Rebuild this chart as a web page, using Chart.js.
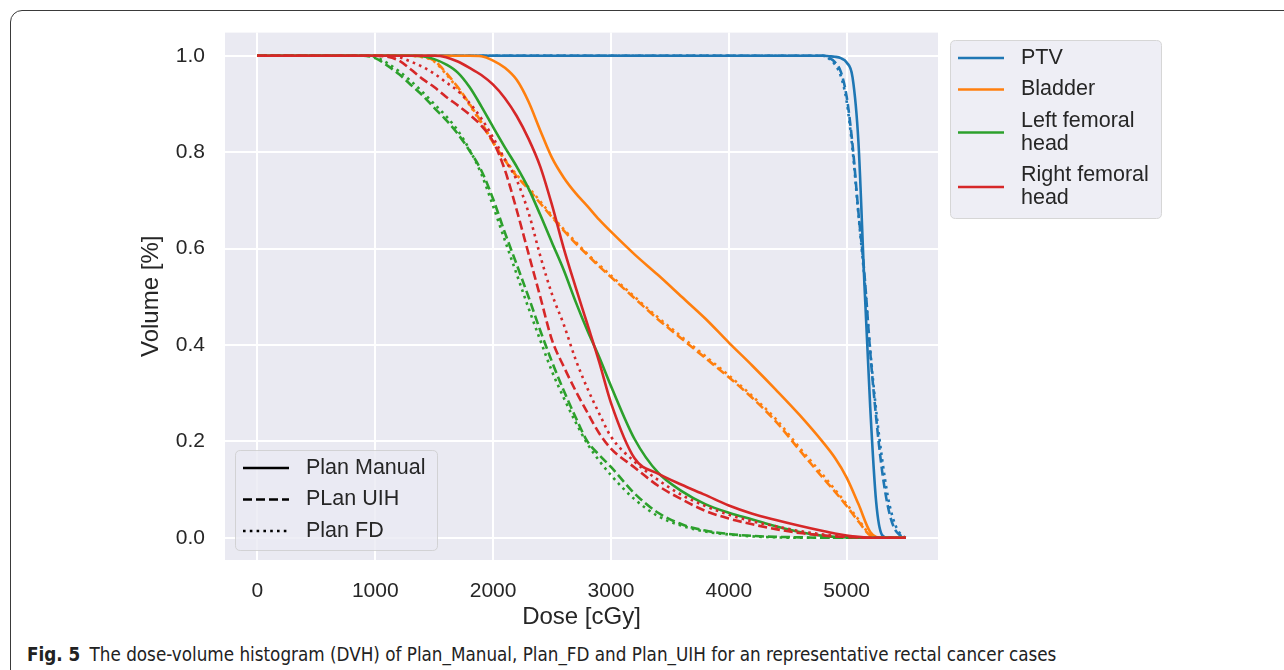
<!DOCTYPE html>
<html>
<head>
<meta charset="utf-8">
<script src="https://cdn.jsdelivr.net/npm/chart.js@4.4.1/dist/chart.umd.min.js"></script>
<style>
  html, body { margin: 0; padding: 0; background: #fff; width: 1284px; height: 670px; overflow: hidden; }
  #frame { position: absolute; left: 10px; top: 10px; width: 1300px; height: 700px; border: 1.5px solid #3a3a3a; border-top-left-radius: 12px; box-sizing: border-box; }
  #wrap { position: absolute; left: 0; top: 0; width: 1284px; height: 640px; }
  #caption { position: absolute; left: 27px; top: 644px; font-family: 'Liberation Sans Narrow', 'DejaVu Sans Condensed', sans-serif; font-size: 18.7px; color: #222; white-space: nowrap; }
  #caption b { margin-right: 4px; }
</style>
</head>
<body>
<div id="frame"></div>
<div id="wrap"><canvas id="dvh" width="1284" height="640"></canvas></div>
<div id="caption"><b>Fig. 5</b> The dose-volume histogram (DVH) of Plan_Manual, Plan_FD and Plan_UIH for an representative rectal cancer cases</div>
<script>
// dose grid for the organs at risk (cGy)
const doseGrid = [0, 800, 900, 1000, 1100, 1200, 1300, 1400, 1500, 1600, 1700, 1800, 1900, 2000,
  2100, 2200, 2300, 2400, 2500, 2600, 2700, 2800, 2900, 3000, 3200, 3400, 3600, 3800, 4000,
  4200, 4400, 4600, 4800, 4900, 5000, 5100, 5200, 5300, 5400, 5500];
// finer grid for the PTV fall-off
const ptvDose = [0, 4700, 4800, 4850, 4900, 4950, 5000, 5050, 5100, 5150, 5200, 5250, 5300, 5350, 5400, 5450, 5500];

const ptvManual = [1, 1, 1, 0.999, 0.998, 0.995, 0.986, 0.955, 0.82, 0.53, 0.27, 0.075, 0.006, 0, 0, 0, 0];
const ptvUIH    = [1, 1, 1, 0.996, 0.987, 0.967, 0.915, 0.815, 0.675, 0.55, 0.385, 0.25, 0.14, 0.065, 0.022, 0.006, 0];
const ptvFD     = [1, 1, 1, 0.994, 0.982, 0.958, 0.905, 0.805, 0.67, 0.54, 0.39, 0.265, 0.165, 0.085, 0.035, 0.01, 0];

const bladderManual = [1, 1, 1, 1, 1, 1, 1, 1, 1, 1, 1, 1,
  0.999, 0.99, 0.975, 0.95, 0.905, 0.845, 0.788, 0.747, 0.715, 0.688, 0.66, 0.635,
  0.588, 0.545, 0.50, 0.455, 0.405, 0.357, 0.307, 0.255, 0.198,
  0.166, 0.125, 0.07, 0.012, 0, 0, 0];
const bladderUIH = [1, 1, 1, 1, 1, 1, 1,
  0.998, 0.99, 0.965, 0.935, 0.9, 0.862, 0.82, 0.783, 0.75, 0.723, 0.694, 0.665, 0.637, 0.611, 0.587, 0.563, 0.541,
  0.497, 0.453, 0.413, 0.373, 0.333, 0.29, 0.241, 0.182, 0.124,
  0.096, 0.066, 0.034, 0.005, 0, 0, 0];
const bladderFD = [1, 1, 1, 1, 1, 1, 1,
  0.997, 0.988, 0.962, 0.932, 0.898, 0.86, 0.82, 0.785, 0.753, 0.727, 0.698, 0.668, 0.64, 0.614, 0.589, 0.566, 0.544,
  0.5, 0.457, 0.417, 0.377, 0.337, 0.294, 0.246, 0.187, 0.13,
  0.1, 0.07, 0.038, 0.007, 0, 0, 0];

const lfhManual = [1, 1, 1, 1, 1, 1, 1,
  0.999, 0.993, 0.982, 0.965, 0.935, 0.895, 0.852, 0.81, 0.77, 0.725, 0.67, 0.612, 0.555, 0.49, 0.43, 0.375, 0.315,
  0.205, 0.135, 0.097, 0.07, 0.052, 0.038, 0.024, 0.012, 0.004,
  0.002, 0.001, 0, 0, 0, 0, 0];
const lfhUIH = [1, 1, 1,
  0.995, 0.98, 0.962, 0.94, 0.918, 0.892, 0.867, 0.838, 0.803, 0.762, 0.703, 0.633, 0.567, 0.5, 0.43, 0.365, 0.305, 0.25, 0.2, 0.172, 0.147,
  0.092, 0.052, 0.028, 0.015, 0.008, 0.004, 0.002, 0.001, 0,
  0, 0, 0, 0, 0, 0, 0];
const lfhFD = [1, 1, 1,
  0.997, 0.985, 0.968, 0.948, 0.925, 0.9, 0.875, 0.845, 0.805, 0.755, 0.688, 0.617, 0.547, 0.477, 0.41, 0.345, 0.29, 0.24, 0.195, 0.16, 0.13,
  0.08, 0.045, 0.025, 0.013, 0.007, 0.003, 0.001, 0, 0,
  0, 0, 0, 0, 0, 0, 0];

const rfhManual = [1, 1, 1, 1, 1, 1, 1, 1, 1,
  0.997, 0.988, 0.975, 0.96, 0.94, 0.912, 0.875, 0.828, 0.77, 0.69, 0.6, 0.52, 0.443, 0.365, 0.28,
  0.165, 0.133, 0.11, 0.089, 0.067, 0.05, 0.037, 0.025, 0.014,
  0.009, 0.005, 0.002, 0, 0, 0, 0];
const rfhUIH = [1, 1, 1, 1,
  0.998, 0.99, 0.972, 0.952, 0.935, 0.915, 0.897, 0.878, 0.855, 0.822, 0.763, 0.68, 0.59, 0.5, 0.41, 0.355, 0.305, 0.26, 0.217, 0.185,
  0.146, 0.108, 0.08, 0.056, 0.04, 0.028, 0.018, 0.01, 0.005,
  0.003, 0.002, 0.001, 0, 0, 0, 0];
const rfhFD = [1, 1, 1, 1, 1,
  0.997, 0.988, 0.977, 0.963, 0.945, 0.927, 0.902, 0.87, 0.83, 0.785, 0.742, 0.675, 0.585, 0.505, 0.442, 0.37, 0.31, 0.258, 0.21,
  0.158, 0.12, 0.089, 0.066, 0.048, 0.034, 0.024, 0.014, 0.007,
  0.004, 0.002, 0.001, 0, 0, 0, 0];

const xTicks = [0, 1000, 2000, 3000, 4000, 5000];
const yTicks = [0, 0.2, 0.4, 0.6, 0.8, 1.0];

const structureNames = [['PTV'], ['Bladder'], ['Left femoral', 'head'], ['Right femoral', 'head']];
const planNames = ['Plan Manual', 'PLan UIH', 'Plan FD'];

const colors = ['#1f77b4', '#ff7f0e', '#2ca02c', '#d62728'];
const dashes = [[], [9, 4], [2.6, 4.2]];
const textColor = '#262626';
const fontFamily = '"Liberation Sans", Arial, sans-serif';

const structures = [
  { dose: ptvDose, plans: [ptvManual, ptvUIH, ptvFD] },
  { dose: doseGrid, plans: [bladderManual, bladderUIH, bladderFD] },
  { dose: doseGrid, plans: [lfhManual, lfhUIH, lfhFD] },
  { dose: doseGrid, plans: [rfhManual, rfhUIH, rfhFD] }
];

const datasets = [];
let k = 0;
structures.forEach((s, si) => {
  s.plans.forEach((vals, pi) => {
    datasets.push({
      data: s.dose.map((d, i) => ({ x: d, y: vals[i] })),
      borderColor: colors[si],
      borderWidth: 2.6,
      borderDash: dashes[pi],
      borderCapStyle: 'butt',
      pointRadius: 0,
      fill: false,
      cubicInterpolationMode: 'monotone',
      order: 100 - k
    });
    k++;
  });
});

function boxPath(ctx, x, y, w, h, r) {
  ctx.beginPath();
  ctx.moveTo(x + r, y);
  ctx.lineTo(x + w - r, y);
  ctx.quadraticCurveTo(x + w, y, x + w, y + r);
  ctx.lineTo(x + w, y + h - r);
  ctx.quadraticCurveTo(x + w, y + h, x + w - r, y + h);
  ctx.lineTo(x + r, y + h);
  ctx.quadraticCurveTo(x, y + h, x, y + h - r);
  ctx.lineTo(x, y + r);
  ctx.quadraticCurveTo(x, y, x + r, y);
  ctx.closePath();
}

const plotBackground = {
  id: 'plotBackground',
  beforeDraw(chart) {
    const a = chart.chartArea;
    const ctx = chart.ctx;
    ctx.save();
    ctx.fillStyle = '#eaeaf2';
    ctx.fillRect(a.left, a.top, a.right - a.left, a.bottom - a.top);
    ctx.restore();
  }
};

const dvhLegends = {
  id: 'dvhLegends',
  afterDraw(chart) {
    const ctx = chart.ctx;
    ctx.save();
    ctx.font = '21.5px ' + fontFamily;
    ctx.textBaseline = 'middle';
    ctx.textAlign = 'left';

    // structure legend, outside on the right
    boxPath(ctx, 950.5, 40.5, 211, 178, 5);
    ctx.fillStyle = '#eeeef5';
    ctx.fill();
    ctx.strokeStyle = '#d6d6d6';
    ctx.lineWidth = 1;
    ctx.stroke();
    let y = 58;
    structureNames.forEach((lines, i) => {
      const mid = y + (lines.length - 1) * 11.5;
      ctx.beginPath();
      ctx.strokeStyle = colors[i];
      ctx.lineWidth = 2.6;
      ctx.setLineDash([]);
      ctx.moveTo(958, mid);
      ctx.lineTo(1004, mid);
      ctx.stroke();
      ctx.fillStyle = textColor;
      lines.forEach((t, j) => ctx.fillText(t, 1021, y + j * 23));
      y += (lines.length - 1) * 23 + 31.5;
    });

    // plan legend, inside lower left
    boxPath(ctx, 235.5, 450.5, 202, 100, 5);
    ctx.fillStyle = 'rgba(234,234,242,0.8)';
    ctx.fill();
    ctx.strokeStyle = 'rgba(204,204,204,0.8)';
    ctx.lineWidth = 1;
    ctx.stroke();
    planNames.forEach((t, i) => {
      const yy = 468 + i * 31.5;
      ctx.beginPath();
      ctx.strokeStyle = '#000';
      ctx.lineWidth = 2.6;
      ctx.lineCap = 'butt';
      ctx.setLineDash(dashes[i]);
      ctx.moveTo(243, yy);
      ctx.lineTo(289, yy);
      ctx.stroke();
      ctx.setLineDash([]);
      ctx.fillStyle = textColor;
      ctx.fillText(t, 306, yy);
    });
    ctx.restore();
  }
};

new Chart(document.getElementById('dvh'), {
  type: 'line',
  data: { datasets: datasets },
  plugins: [plotBackground, dvhLegends],
  options: {
    responsive: false,
    animation: false,
    layout: { padding: { left: 0, top: 31, right: 346, bottom: 0 } },
    plugins: {
      legend: { display: false },
      tooltip: { enabled: false }
    },
    scales: {
      x: {
        type: 'linear',
        min: -275,
        max: 5775,
        border: { display: false },
        grid: { color: '#ffffff', lineWidth: 2, drawTicks: false },
        ticks: {
          padding: 19,
          color: textColor,
          font: { family: fontFamily, size: 21 },
          callback: v => String(v)
        },
        title: {
          display: true,
          text: 'Dose [cGy]',
          color: textColor,
          font: { family: fontFamily, size: 24 },
          padding: { top: 0, bottom: 8 }
        },
        afterBuildTicks: s => { s.ticks = xTicks.map(v => ({ value: v })); },
        afterFit: s => { s.height = 80; }
      },
      y: {
        type: 'linear',
        min: -0.046,
        max: 1.048,
        border: { display: false },
        grid: { color: '#ffffff', lineWidth: 2, drawTicks: false },
        ticks: {
          padding: 20,
          color: textColor,
          font: { family: fontFamily, size: 21 },
          callback: v => v.toFixed(1)
        },
        title: {
          display: true,
          text: 'Volume [%]',
          color: textColor,
          font: { family: fontFamily, size: 24 },
          padding: { top: 137, bottom: 0 }
        },
        afterBuildTicks: s => { s.ticks = yTicks.map(v => ({ value: v })); },
        afterFit: s => { s.width = 225; }
      }
    }
  }
});
</script>
</body>
</html>
